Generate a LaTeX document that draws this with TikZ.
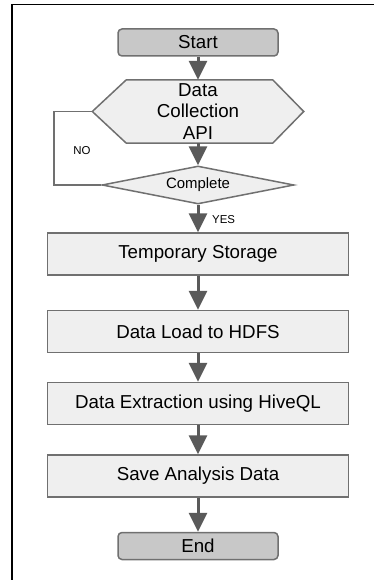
\documentclass[tikz,border=0pt]{standalone}
\usepackage{fontspec}
\setmainfont{Liberation Sans}
\usetikzlibrary{arrows.meta,shapes.geometric,backgrounds}

\definecolor{boxfill}{HTML}{EFEFEF}
\definecolor{termfill}{HTML}{C8C8C8}
\definecolor{edgegray}{HTML}{707070}
\definecolor{arrowgray}{HTML}{5A5A5A}

\tikzset{
  procbox/.style={draw=edgegray, fill=boxfill, line width=1.5bp, inner sep=0pt,
    minimum width=301bp, minimum height=42bp, font=\fontsize{18.8}{21.5}\selectfont},
  termbox/.style={procbox, fill=termfill, rounded corners=4bp,
    minimum width=160bp, minimum height=27bp},
  decbox/.style={diamond, procbox, aspect=5, minimum width=192bp, minimum height=38bp,
    font=\fontsize{15}{17}\selectfont},
  hexbox/.style={inner sep=0pt, minimum width=211bp, minimum height=63bp, align=center,
    font=\fontsize{18.8}{21.5}\selectfont},
  hexline/.style={draw=edgegray, fill=boxfill, line width=1.5bp},
  flowarrow/.style={draw=arrowgray, line width=3bp, -{Triangle[width=18bp,length=19bp]}},
  loopline/.style={draw=edgegray, line width=1.5bp},
  answer/.style={inner sep=0pt, font=\fontsize{11.5}{13}\selectfont}
}

\begin{document}
\begin{tikzpicture}[x=1bp, y=-1bp]
  \useasboundingbox (0,0) rectangle (374,580);
  \draw[line width=1.5bp] (12,580) -- (12,4.5) -- (374,4.5);

  \node[termbox] (start) at (198,42.5) {Start};
  \node[hexbox] (api) at (198,111.5) {Data\\Collection\\API};
  \begin{scope}[on background layer]
    \filldraw[hexline] (api.west) -- ([xshift=34bp]api.north west)
      -- ([xshift=-31bp]api.north east) -- (api.east)
      -- ([xshift=-31bp]api.south east) -- ([xshift=34bp]api.south west) -- cycle;
  \end{scope}
  \node[decbox] (done) at (198,185) {Complete};
  \node[procbox] (tmp) at (198,254) {Temporary Storage};
  \node[procbox] (hdfs) at (198,331.5) {Data Load to HDFS};
  \node[procbox] (hive) at (198,403.5) {Data Extraction using HiveQL};
  \node[procbox] (save) at (198,476) {Save Analysis Data};
  \node[termbox] (end) at (198,546) {End};

  \draw[flowarrow] (start) -- (api);
  \draw[flowarrow] (api) -- (done);
  \draw[flowarrow] (done) -- (tmp);
  \draw[flowarrow] (tmp) -- (hdfs);
  \draw[flowarrow] (hdfs) -- (hive);
  \draw[flowarrow] (hive) -- (save);
  \draw[flowarrow] (save) -- (end);

  % loop back when not complete
  \draw[loopline] (done.west) -- ++(-47,0) |- (api.west);
  \node[answer] (no) at (82,151) {NO};
  \node[answer, anchor=west] (yes) at (212,220) {YES};
\end{tikzpicture}
\end{document}
